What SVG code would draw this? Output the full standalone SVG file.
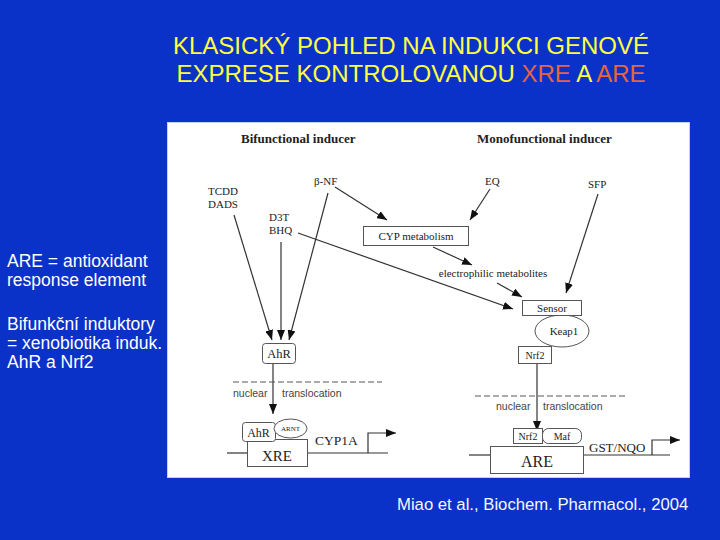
<svg xmlns="http://www.w3.org/2000/svg" width="720" height="540" viewBox="0 0 720 540">
<defs>
<style>
.title{font-family:"Liberation Sans",Arial,sans-serif;font-size:24px;fill:#ffff40}
.red{fill:#e8643c}
.side{font-family:"Liberation Sans",Arial,sans-serif;font-size:17.5px;fill:#ffffff}
.serif{font-family:"Liberation Serif","Times New Roman",serif;fill:#222}
.bold{font-weight:bold}
.sans{font-family:"Liberation Sans",Arial,sans-serif;font-size:10.5px;fill:#444}
.box{fill:#fff;stroke:#555;stroke-width:1}
.ln{stroke:#333;stroke-width:1.2;fill:none}
.arr{stroke:#333;stroke-width:1.2;fill:none;marker-end:url(#ah)}
.dash{stroke:#555;stroke-width:1;stroke-dasharray:6,3;fill:none}
</style>
<marker id="ah" markerUnits="userSpaceOnUse" markerWidth="10" markerHeight="8" refX="10" refY="4" orient="auto">
<path d="M0,0 L10,4 L0,8 z" fill="#111"/>
</marker>
</defs>
<rect x="0" y="0" width="720" height="540" fill="#0a32c8"/>
<g id="title">
<text class="title" x="411" y="54" text-anchor="middle">KLASICKÝ POHLED NA INDUKCI GENOVÉ</text>
<text class="title" x="411" y="82" text-anchor="middle">EXPRESE KONTROLOVANOU <tspan class="red">XRE</tspan> A <tspan class="red">ARE</tspan></text>
</g>
<g id="side-notes">
<text class="side" x="7" y="267">ARE = antioxidant</text>
<text class="side" x="7" y="286">response element</text>
<text class="side" x="7" y="330">Bifunkční induktory</text>
<text class="side" x="7" y="349">= xenobiotika induk.</text>
<text class="side" x="7" y="368">AhR a Nrf2</text>
</g>
<text id="citation" x="397" y="510" font-family="Liberation Sans, Arial, sans-serif" font-size="16.7" fill="#f4f6ff">Miao et al., Biochem. Pharmacol., 2004</text>
<rect id="figure" x="167.5" y="122.5" width="522" height="355" fill="#fff" stroke="#c8d0ec" stroke-width="1"/>
<g id="headers">
<text class="serif bold" x="241" y="143" font-size="13">Bifunctional inducer</text>
<text class="serif bold" x="477" y="143" font-size="13">Monofunctional inducer</text>
</g>
<g id="inducers" class="serif" font-size="11">
<text x="208" y="195">TCDD</text>
<text x="208" y="208">DADS</text>
<text x="314" y="185">β-NF</text>
<text x="269" y="221">D3T</text>
<text x="269" y="234">BHQ</text>
<text x="485" y="185">EQ</text>
<text x="588" y="188">SFP</text>
</g>
<g id="connectors">
<line class="arr" x1="234" y1="215" x2="272" y2="340"/>
<line class="arr" x1="281" y1="242" x2="281" y2="340"/>
<line class="arr" x1="328" y1="193" x2="289" y2="340"/>
<line class="arr" x1="335" y1="187" x2="387" y2="220"/>
<line class="arr" x1="490" y1="189" x2="470" y2="220"/>
<line class="arr" x1="598" y1="194" x2="566" y2="293"/>
<line class="arr" x1="298" y1="233" x2="513" y2="309"/>
<line class="arr" x1="433" y1="247" x2="472" y2="265"/>
<line class="arr" x1="497" y1="283" x2="522" y2="297"/>
<line class="arr" x1="273" y1="363" x2="273" y2="414"/>
<line class="arr" x1="537" y1="363" x2="537" y2="431"/>
<line class="dash" x1="233" y1="382" x2="382" y2="382"/>
<line class="dash" x1="475" y1="396" x2="627" y2="396"/>
<line class="ln" x1="227" y1="453" x2="247" y2="453"/>
<line class="ln" x1="308" y1="453" x2="388" y2="453"/>
<polyline class="arr" points="368,453 368,433 396,433"/>
<line class="ln" x1="469" y1="455" x2="490" y2="455"/>
<line class="ln" x1="583" y1="455" x2="670" y2="455"/>
<polyline class="arr" points="652,455 652,440 680,440"/>
</g>
<g id="cyp-metabolism">
<rect class="box" x="363.5" y="226.5" width="105" height="19"/>
<text class="serif" x="416" y="240" font-size="11" text-anchor="middle">CYP metabolism</text>
</g>
<g id="electrophilic-metabolites">
<text class="serif" x="493" y="277" font-size="11" text-anchor="middle">electrophilic metabolites</text>
</g>
<g id="keap1">
<ellipse class="box" cx="562" cy="331" rx="27" ry="16"/>
<text class="serif" x="564" y="335" font-size="11" text-anchor="middle">Keap1</text>
</g>
<g id="sensor">
<rect class="box" x="522.5" y="300.5" width="59" height="15"/>
<text class="serif" x="552" y="312" font-size="11" text-anchor="middle">Sensor</text>
</g>
<g id="nrf2-cyto">
<rect class="box" x="518.5" y="346.5" width="33" height="17"/>
<text class="serif" x="535" y="358.5" font-size="10" text-anchor="middle">Nrf2</text>
</g>
<g id="ahr-cyto">
<rect class="box" x="262.5" y="343.5" width="33" height="20" rx="3"/>
<text class="serif" x="279" y="358" font-size="12.5" text-anchor="middle">AhR</text>
</g>
<g id="translocation-left" class="sans">
<text x="233" y="397">nuclear</text>
<text x="282" y="397">translocation</text>
</g>
<g id="translocation-right" class="sans">
<text x="496" y="410">nuclear</text>
<text x="543" y="410">translocation</text>
</g>
<g id="xre">
<rect class="box" x="247.5" y="439.5" width="60" height="27"/>
<text class="serif" x="277" y="461" font-size="15" text-anchor="middle">XRE</text>
</g>
<g id="ahr-nuclear">
<rect class="box" x="242.5" y="422.5" width="33" height="19" rx="3"/>
<text class="serif" x="258.5" y="437" font-size="12" text-anchor="middle">AhR</text>
</g>
<g id="arnt">
<ellipse class="box" cx="290.5" cy="428.5" rx="16.5" ry="9.5"/>
<text class="serif" x="290.5" y="431" font-size="7" text-anchor="middle">ARNT</text>
</g>
<g id="cyp1a">
<text class="serif" x="315" y="445" font-size="13.5">CYP1A</text>
</g>
<g id="are">
<rect class="box" x="490.5" y="446.5" width="93" height="27"/>
<text class="serif" x="537" y="467" font-size="16" text-anchor="middle">ARE</text>
</g>
<g id="nrf2-nuclear">
<rect class="box" x="513.5" y="428.5" width="29" height="15"/>
<text class="serif" x="528" y="440" font-size="10" text-anchor="middle">Nrf2</text>
</g>
<g id="maf">
<rect class="box" x="542.5" y="428.5" width="39" height="15" rx="6"/>
<text class="serif" x="562" y="440" font-size="10" text-anchor="middle">Maf</text>
</g>
<g id="gst-nqo">
<text class="serif" x="589" y="452" font-size="13">GST/NQO</text>
</g>
</svg>
